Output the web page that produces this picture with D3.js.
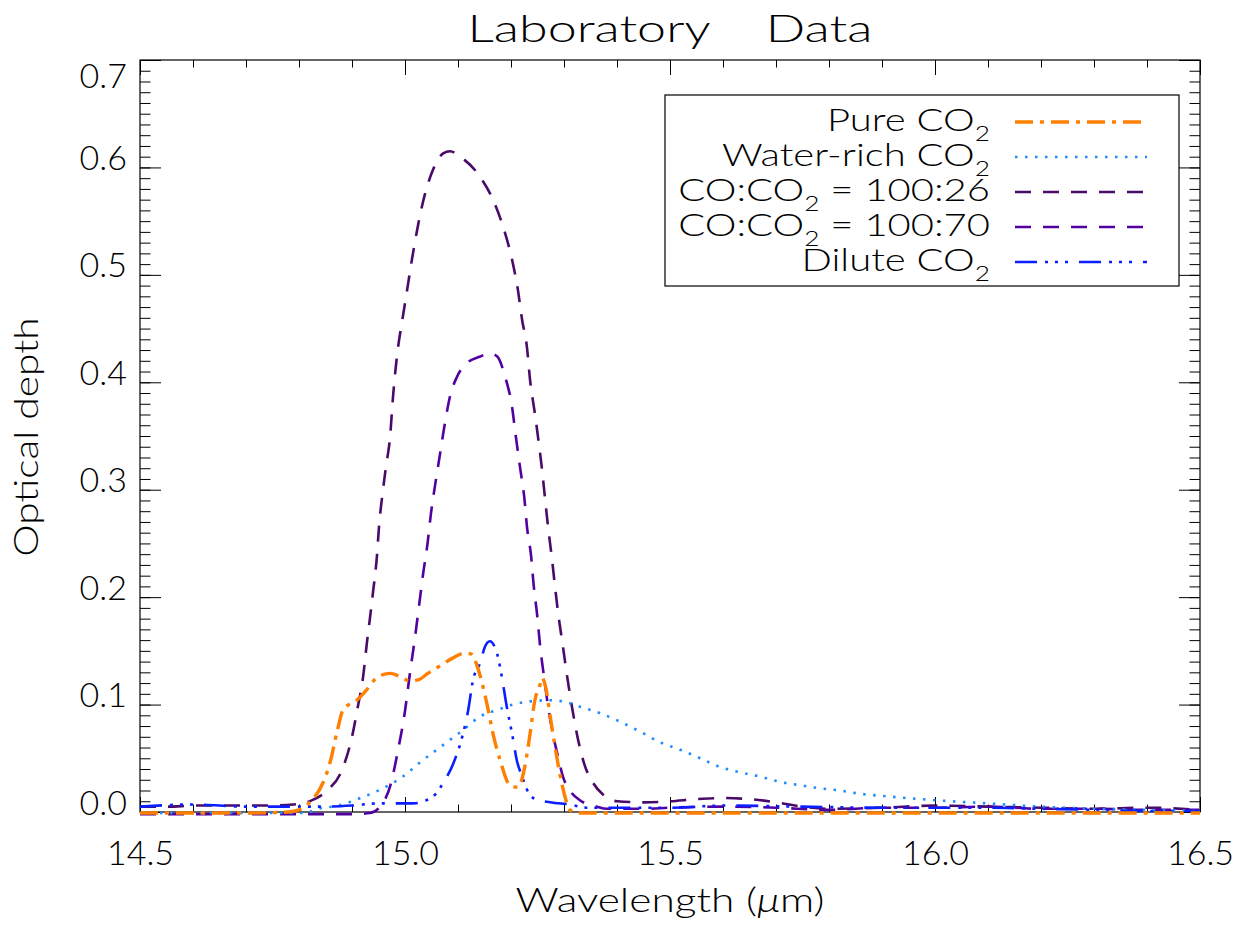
<!DOCTYPE html>
<html>
<head>
<meta charset="utf-8">
<script src="https://cdn.jsdelivr.net/npm/d3@7"></script>
<style>
  html, body { margin: 0; padding: 0; background: #fff; }
  svg { display: block; }
  text { font-family: "Lato", "DejaVu Sans", sans-serif; font-weight: 300; fill: #000; }
</style>
</head>
<body>
<svg id="chart" width="1253" height="927"></svg>
<script>
// ---------------- DATA ----------------
const chartTitle = "Laboratory    Data";
const xLabel = "Wavelength (";
const yLabel = "Optical depth";
const xTicks = [14.5, 15.0, 15.5, 16.0, 16.5];
const yTicks = [0.0, 0.1, 0.2, 0.3, 0.4, 0.5, 0.6, 0.7];

// Pure CO2
const pureWl = [14.5, 14.6, 14.7, 14.78, 14.8, 14.82, 14.845, 14.858, 14.872, 14.883, 14.911, 14.928, 14.949, 14.972, 14.991, 15.009, 15.025, 15.043, 15.066, 15.089, 15.113, 15.125, 15.136, 15.147, 15.157, 15.166, 15.179, 15.198, 15.213, 15.226, 15.236, 15.245, 15.255, 15.258, 15.266, 15.274, 15.283, 15.292, 15.302, 15.311, 15.326, 15.4, 15.6, 15.8, 16.0, 16.2, 16.4, 16.5];
const pureOD = [-0.001, -0.001, -0.001, 0.000, 0.002, 0.009, 0.027, 0.045, 0.075, 0.095, 0.105, 0.114, 0.126, 0.129, 0.126, 0.122, 0.123, 0.129, 0.136, 0.143, 0.148, 0.147, 0.136, 0.117, 0.095, 0.073, 0.049, 0.025, 0.023, 0.042, 0.073, 0.104, 0.119, 0.125, 0.115, 0.089, 0.061, 0.036, 0.014, 0.002, -0.001, -0.001, -0.001, -0.001, -0.001, -0.001, -0.001, -0.001];

// Water-rich CO2
const waterWl = [14.5, 14.6, 14.7, 14.808, 14.845, 14.864, 14.921, 14.966, 14.996, 15.028, 15.06, 15.09, 15.109, 15.142, 15.174, 15.204, 15.236, 15.274, 15.298, 15.33, 15.368, 15.406, 15.443, 15.481, 15.519, 15.557, 15.594, 15.632, 15.67, 15.708, 15.745, 15.783, 15.821, 15.858, 15.9, 16.0, 16.1, 16.2, 16.3, 16.4, 16.5];
const waterOD = [-0.001, -0.001, -0.001, -0.001, 0.004, 0.005, 0.014, 0.024, 0.033, 0.046, 0.058, 0.069, 0.076, 0.089, 0.095, 0.100, 0.103, 0.104, 0.103, 0.098, 0.092, 0.084, 0.075, 0.065, 0.058, 0.050, 0.042, 0.037, 0.033, 0.028, 0.025, 0.022, 0.020, 0.017, 0.015, 0.011, 0.008, 0.005, 0.003, 0.002, 0.001];

// CO:CO2 = 100:26
const co26Wl = [14.5, 14.55, 14.608, 14.65, 14.702, 14.75, 14.789, 14.825, 14.853, 14.881, 14.9, 14.911, 14.921, 14.928, 14.934, 14.94, 14.947, 14.951, 14.957, 14.964, 14.972, 14.977, 14.987, 14.994, 15.004, 15.013, 15.023, 15.034, 15.053, 15.072, 15.085, 15.104, 15.142, 15.166, 15.185, 15.202, 15.213, 15.221, 15.23, 15.236, 15.245, 15.251, 15.258, 15.264, 15.27, 15.277, 15.283, 15.289, 15.298, 15.306, 15.315, 15.325, 15.338, 15.355, 15.374, 15.4, 15.45, 15.5, 15.55, 15.6, 15.65, 15.7, 15.75, 15.8, 15.9, 16.0, 16.1, 16.2, 16.3, 16.4, 16.5];
const co26OD = [0.005, 0.005, 0.006, 0.006, 0.006, 0.006, 0.007, 0.011, 0.020, 0.039, 0.070, 0.098, 0.126, 0.157, 0.181, 0.206, 0.238, 0.266, 0.294, 0.321, 0.350, 0.384, 0.433, 0.455, 0.486, 0.514, 0.542, 0.568, 0.598, 0.613, 0.615, 0.610, 0.591, 0.570, 0.545, 0.514, 0.486, 0.458, 0.433, 0.402, 0.371, 0.349, 0.321, 0.293, 0.265, 0.237, 0.210, 0.185, 0.154, 0.126, 0.098, 0.071, 0.045, 0.027, 0.016, 0.010, 0.009, 0.010, 0.012, 0.013, 0.012, 0.009, 0.005, 0.003, 0.004, 0.006, 0.005, 0.004, 0.003, 0.004, 0.002];

// CO:CO2 = 100:70
const co70Wl = [14.5, 14.6, 14.7, 14.8, 14.9, 14.934, 14.953, 14.972, 14.987, 15.0, 15.009, 15.019, 15.028, 15.034, 15.042, 15.049, 15.057, 15.066, 15.075, 15.085, 15.098, 15.117, 15.142, 15.16, 15.174, 15.189, 15.202, 15.209, 15.217, 15.225, 15.23, 15.238, 15.243, 15.249, 15.255, 15.262, 15.27, 15.279, 15.289, 15.298, 15.311, 15.33, 15.362, 15.381, 15.45, 15.5, 15.6, 15.7, 15.8, 15.9, 16.0, 16.1, 16.2, 16.3, 16.4, 16.5];
const co70OD = [-0.002, -0.002, -0.002, -0.002, -0.002, -0.001, 0.005, 0.024, 0.058, 0.094, 0.128, 0.163, 0.198, 0.221, 0.248, 0.278, 0.305, 0.333, 0.361, 0.387, 0.405, 0.418, 0.424, 0.427, 0.424, 0.405, 0.377, 0.350, 0.321, 0.293, 0.266, 0.238, 0.210, 0.185, 0.154, 0.127, 0.098, 0.073, 0.051, 0.033, 0.020, 0.011, 0.005, 0.003, 0.003, 0.004, 0.005, 0.004, 0.002, 0.004, 0.004, 0.005, 0.003, 0.003, 0.002, 0.002];

// Dilute CO2
const diluteWl = [14.5, 14.6, 14.7, 14.8, 14.85, 14.9, 14.95, 15.015, 15.041, 15.06, 15.072, 15.091, 15.109, 15.119, 15.128, 15.142, 15.151, 15.16, 15.174, 15.183, 15.192, 15.202, 15.211, 15.221, 15.23, 15.242, 15.274, 15.311, 15.343, 15.4, 15.5, 15.6, 15.75, 15.9, 16.0, 16.1, 16.2, 16.3, 16.4, 16.5];
const diluteOD = [0.005, 0.007, 0.005, 0.005, 0.005, 0.006, 0.008, 0.008, 0.011, 0.018, 0.027, 0.045, 0.072, 0.094, 0.122, 0.139, 0.154, 0.159, 0.147, 0.125, 0.098, 0.073, 0.048, 0.033, 0.021, 0.013, 0.009, 0.007, 0.004, 0.004, 0.004, 0.006, 0.005, 0.004, 0.004, 0.004, 0.003, 0.002, 0.001, 0.001];

const seriesNames = ["Pure CO2", "Water-rich CO2", "CO:CO2 = 100:26", "CO:CO2 = 100:70", "Dilute CO2"];
const seriesColors = ["#ff8000", "#1e8cff", "#4a0a68", "#5200a0", "#0a1eff"];

// ---------------- LAYOUT ----------------
const svg = d3.select("#chart");
const W = 1253, H = 927;
const margin = {left: 140, right: 53, top: 60, bottom: 115};
const x = d3.scaleLinear().domain([14.5, 16.5]).range([margin.left, W - margin.right]);
const y = d3.scaleLinear().domain([0, 0.7]).range([H - margin.bottom, margin.top]);
const x0 = x.range()[0], x1 = x.range()[1], y0 = y.range()[0], y1 = y.range()[1];

const xMinor = d3.range(14.5, 16.5001, 0.1).map(v => +v.toFixed(2));
const yMinor = d3.range(0, 0.7001, 0.01).map(v => +v.toFixed(3));
const xMajLen = 15, yMajLen = 21;
const labelFont = 34, capH = 25;
const textWiden = 1.25;

// minor ticks
function minorAxis(gen, tr) {
  const g = svg.append("g").attr("transform", tr).call(gen);
  g.select(".domain").remove();
  g.selectAll("text").remove();
  g.selectAll("line").attr("stroke", "#000").attr("stroke-width", 1);
  return g;
}
minorAxis(d3.axisBottom(x).tickValues(xMinor).tickSize(-xMajLen / 2).tickFormat(""), `translate(0,${y0})`);
minorAxis(d3.axisTop(x).tickValues(xMinor).tickSize(-xMajLen / 2).tickFormat(""), `translate(0,${y1})`);
minorAxis(d3.axisLeft(y).tickValues(yMinor).tickSize(-yMajLen / 2).tickFormat(""), `translate(${x0},0)`);
minorAxis(d3.axisRight(y).tickValues(yMinor).tickSize(-yMajLen / 2).tickFormat(""), `translate(${x1},0)`);

// major ticks + labels
const gx = svg.append("g").attr("transform", `translate(0,${y0})`)
  .call(d3.axisBottom(x).tickValues(xTicks).tickSize(-xMajLen).tickPadding(29).tickFormat(d3.format(".1f")));
gx.select(".domain").remove();
gx.selectAll("line").attr("stroke", "#000");
gx.selectAll("text").attr("font-size", labelFont);

const gxt = svg.append("g").attr("transform", `translate(0,${y1})`)
  .call(d3.axisTop(x).tickValues(xTicks).tickSize(-xMajLen).tickFormat(""));
gxt.select(".domain").remove();
gxt.selectAll("line").attr("stroke", "#000");

const gy = svg.append("g").attr("transform", `translate(${x0},0)`)
  .call(d3.axisLeft(y).tickValues(yTicks).tickSize(-yMajLen).tickPadding(13).tickFormat(d3.format(".1f")));
gy.select(".domain").remove();
gy.selectAll("line").attr("stroke", "#000");
// baseline just below the tick, but keep the label's top inside the plot frame
gy.selectAll("text").attr("font-size", labelFont)
  .attr("dy", d => Math.max(2, (y1 + capH + 2) - y(d)));

const gyr = svg.append("g").attr("transform", `translate(${x1},0)`)
  .call(d3.axisRight(y).tickValues(yTicks).tickSize(-yMajLen).tickFormat(""));
gyr.select(".domain").remove();
gyr.selectAll("line").attr("stroke", "#000");

svg.selectAll(".tick text").attr("font-family", null).attr("fill", "#000");

// frame
svg.append("rect").attr("x", x0).attr("y", y1).attr("width", x1 - x0).attr("height", y0 - y1)
  .attr("fill", "none").attr("stroke", "#000").attr("stroke-width", 1.2);

// ---------------- LINES ----------------
const series = [
  {wl: co26Wl, od: co26OD, color: seriesColors[2], dash: "16,12", width: 2.6},
  {wl: co70Wl, od: co70OD, color: seriesColors[3], dash: "16,12", width: 2.6},
  {wl: waterWl, od: waterOD, color: seriesColors[1], dash: "2.5,7.5", width: 2.6},
  {wl: diluteWl, od: diluteOD, color: seriesColors[4], dash: "22,8,3,7,3,7,3,11", width: 2.6},
  {wl: pureWl, od: pureOD, color: seriesColors[0], dash: "18,7,4,7", width: 3.4}
];

const line = d3.line().x(d => x(d[0])).y(d => y(d[1])).curve(d3.curveMonotoneX);
series.forEach(s => {
  const pts = s.wl.map((w, i) => [w, s.od[i]]);
  svg.append("path").datum(pts).attr("d", line)
    .attr("fill", "none").attr("stroke", s.color).attr("stroke-width", s.width)
    .attr("stroke-dasharray", s.dash).attr("stroke-linejoin", "round");
});

// ---------------- TITLES ----------------
svg.append("text").attr("x", (x0 + x1) / 2).attr("y", 42).attr("text-anchor", "middle")
  .attr("font-size", 38).style("white-space", "pre").attr("xml:space", "preserve")
  .attr("textLength", 405).attr("lengthAdjust", "spacingAndGlyphs").text(chartTitle);

const xt = svg.append("g").attr("transform", `translate(${(x0 + x1) / 2},912) scale(${textWiden},1)`)
  .append("text").attr("x", 0).attr("y", 0).attr("text-anchor", "middle").attr("font-size", 34);
xt.append("tspan").text(xLabel);
xt.append("tspan").attr("font-style", "italic").text("\u03bc");
xt.append("tspan").text("m)");

svg.append("g").attr("transform", `translate(38,437) rotate(-90) scale(${textWiden * 0.96},1)`)
  .append("text").attr("text-anchor", "middle").attr("font-size", 34).text(yLabel);

// ---------------- LEGEND ----------------
const legX0 = 665, legY0 = 95, legW = 514, legH = 191;
svg.append("rect").attr("x", legX0).attr("y", legY0).attr("width", legW).attr("height", legH)
  .attr("fill", "#fff").attr("stroke", "#000").attr("stroke-width", 1.2);

const legendParts = [
  [["Pure CO", 0], ["2", 1]],
  [["Water-rich CO", 0], ["2", 1]],
  [["CO:CO", 0], ["2", 1], [" = 100:26", 0]],
  [["CO:CO", 0], ["2", 1], [" = 100:70", 0]],
  [["Dilute CO", 0], ["2", 1]]
];
const legendStyle = [series[4], series[2], series[0], series[1], series[3]];
const rowY = d3.scaleLinear().domain([0, 4]).range([122, 262]);

legendParts.forEach((parts, i) => {
  const yy = rowY(i);
  const t = svg.append("g").attr("transform", `translate(990,${yy + 9}) scale(${textWiden},1)`)
    .append("text").attr("x", 0).attr("y", 0).attr("text-anchor", "end").attr("font-size", 32)
    .style("white-space", "pre").attr("xml:space", "preserve");
  let state = 0;
  parts.forEach(([txt, sub]) => {
    const ts = t.append("tspan").text(txt);
    if (sub && !state) { ts.attr("dy", 10).attr("font-size", 21); state = 1; }
    else if (!sub && state) { ts.attr("dy", -10); state = 0; }
  });
  const s = legendStyle[i];
  svg.append("line").attr("x1", 1015).attr("x2", 1147).attr("y1", yy).attr("y2", yy)
    .attr("stroke", s.color).attr("stroke-width", s.width).attr("stroke-dasharray", s.dash);
});
</script>
</body>
</html>
